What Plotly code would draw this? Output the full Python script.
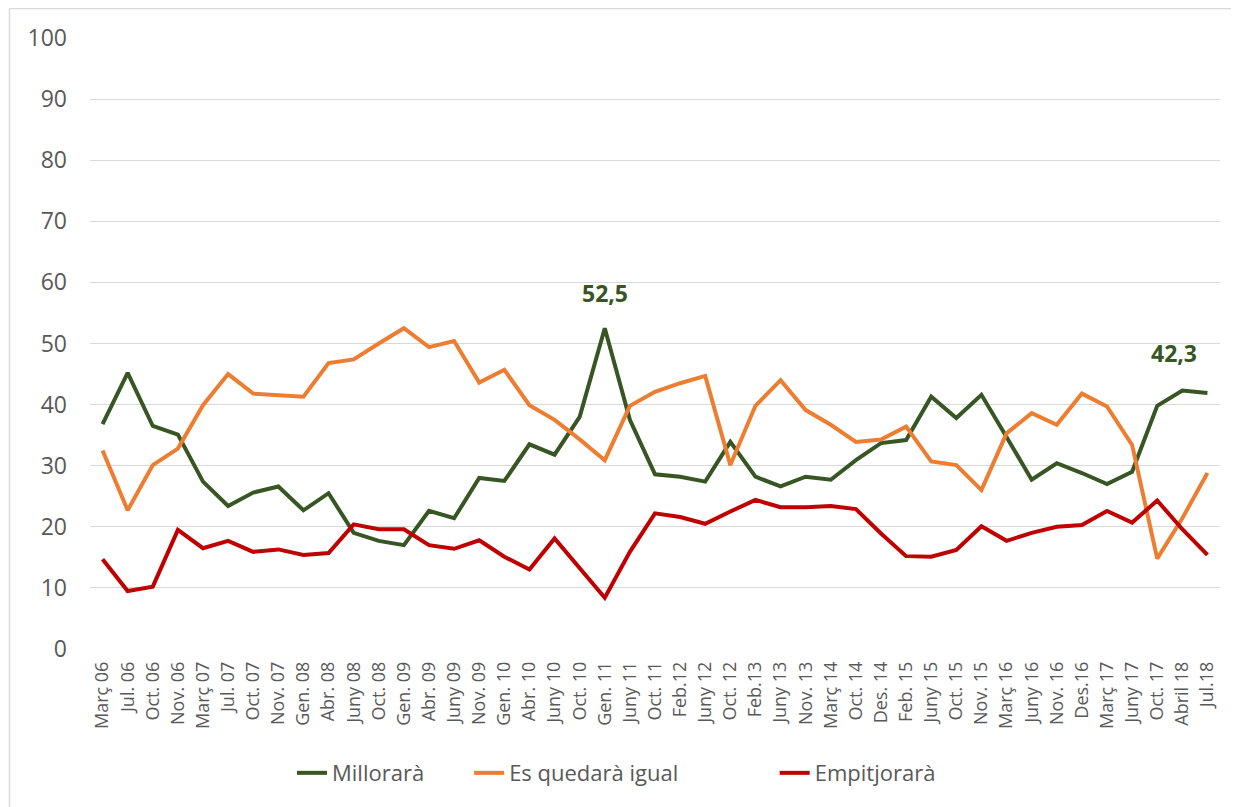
import plotly.graph_objects as go

periodes = [
    "Març 06", "Jul. 06", "Oct. 06", "Nov. 06", "Març 07", "Jul. 07", "Oct. 07", "Nov. 07",
    "Gen. 08", "Abr. 08", "Juny 08", "Oct. 08", "Gen. 09", "Abr. 09", "Juny 09", "Nov. 09",
    "Gen. 10", "Abr. 10", "Juny 10", "Oct. 10", "Gen. 11", "Juny 11", "Oct. 11", "Feb.12",
    "Juny 12", "Oct. 12", "Feb.13", "Juny 13", "Nov. 13", "Març 14", "Oct. 14", "Des. 14",
    "Feb. 15", "Juny 15", "Oct. 15", "Nov. 15", "Març 16", "Juny 16", "Nov. 16", "Des.16",
    "Març 17", "Juny 17", "Oct. 17", "Abril 18", "Jul.18",
]

millorara = [
    36.8, 45.2, 36.5, 35.1, 27.4, 23.4, 25.6, 26.6, 22.7, 25.5, 19.0, 17.7, 17.0, 22.6, 21.4,
    28.0, 27.5, 33.5, 31.8, 38.0, 52.5, 37.5, 28.6, 28.2, 27.4, 33.9, 28.2, 26.6, 28.2, 27.7,
    30.9, 33.7, 34.2, 41.3, 37.8, 41.6, 34.7, 27.7, 30.4, 28.8, 27.0, 29.0, 39.8, 42.3, 41.9,
]
igual = [
    32.5, 22.7, 30.1, 32.8, 39.9, 45.0, 41.8, 41.6, 41.3, 46.8, 47.4, 50.0, 52.5, 49.4, 50.4,
    43.6, 45.7, 39.9, 37.5, 34.3, 30.9, 39.8, 42.1, 43.5, 44.7, 30.1, 39.8, 44.0, 39.1, 36.7,
    33.9, 34.3, 36.4, 30.7, 30.1, 26.0, 35.3, 38.6, 36.7, 41.8, 39.7, 33.4, 14.8, 21.4, 28.8,
]
empitjorara = [
    14.7, 9.5, 10.2, 19.5, 16.5, 17.7, 15.9, 16.3, 15.4, 15.7, 20.4, 19.6, 19.6, 17.0, 16.4,
    17.8, 15.1, 13.0, 18.1, 13.2, 8.4, 15.9, 22.2, 21.6, 20.5, 22.5, 24.4, 23.2, 23.2, 23.4,
    22.9, 18.9, 15.2, 15.1, 16.2, 20.1, 17.7, 19.0, 20.0, 20.3, 22.6, 20.7, 24.3, 19.6, 15.4,
]

series = [
    ("Millorarà", millorara, "#375623"),
    ("Es quedarà igual", igual, "#ED7D31"),
    ("Empitjorarà", empitjorara, "#C00000"),
]
# espai extra darrere de cada entrada de la llegenda (com a Excel)
padding = [7, 16, 0]

x = list(range(len(periodes)))

fig = go.Figure()
for (nom, vals, color), pad in zip(series, padding):
    fig.add_trace(go.Scatter(
        x=x, y=vals, name=nom + "\u00a0" * pad, mode="lines",
        line=dict(color=color, width=4),
    ))

# etiquetes de valor (màxim i darrer punt)
for idx, dx, dy in [(20, 0, 35), (43, -8, 38)]:
    fig.add_annotation(
        x=idx, y=millorara[idx],
        text="<b>" + f"{millorara[idx]:.1f}".replace(".", ",") + "</b>",
        showarrow=False, xshift=dx, yshift=dy,
        font=dict(size=23, color="#375623", family="Open Sans"),
    )

# la pàgina afegeix 8px de marge al cos
fig.update_layout(
    width=1231, height=799,
    margin=dict(l=82, r=19, t=30, b=158),
    paper_bgcolor="white", plot_bgcolor="white",
    font=dict(family="Open Sans", color="#595959"),
    showlegend=True,
    legend=dict(
        orientation="h", x=(292 - 90) / 1130, xanchor="left", y=-0.203, yanchor="middle",
        font=dict(size=22, color="#595959"),
    ),
    xaxis=dict(
        tickmode="array", tickvals=x, ticktext=periodes, tickangle=-90,
        range=[-0.5, len(periodes) - 0.5], showgrid=False, zeroline=False,
        showline=False, ticklabelstandoff=8, tickfont=dict(size=18, color="#595959"),
    ),
    yaxis=dict(
        range=[0, 100], dtick=10, showgrid=True, gridcolor="#d9d9d9", gridwidth=1,
        zeroline=False, showline=False, ticks="", ticklabelstandoff=22,
        tickfont=dict(size=23, color="#595959"),
    ),
    shapes=[
        dict(type="line", xref="paper", yref="paper",
             x0=-80.5 / 1130, x1=1 + 19 / 1130, y0=1 + 29.5 / 611, y1=1 + 29.5 / 611,
             line=dict(color="#d9d9d9", width=1.5)),
        dict(type="line", xref="paper", yref="paper",
             x0=-80.5 / 1130, x1=-80.5 / 1130, y0=-158 / 611, y1=1 + 29.5 / 611,
             line=dict(color="#d9d9d9", width=1.5)),
    ],
)

fig.write_html("out.html")
